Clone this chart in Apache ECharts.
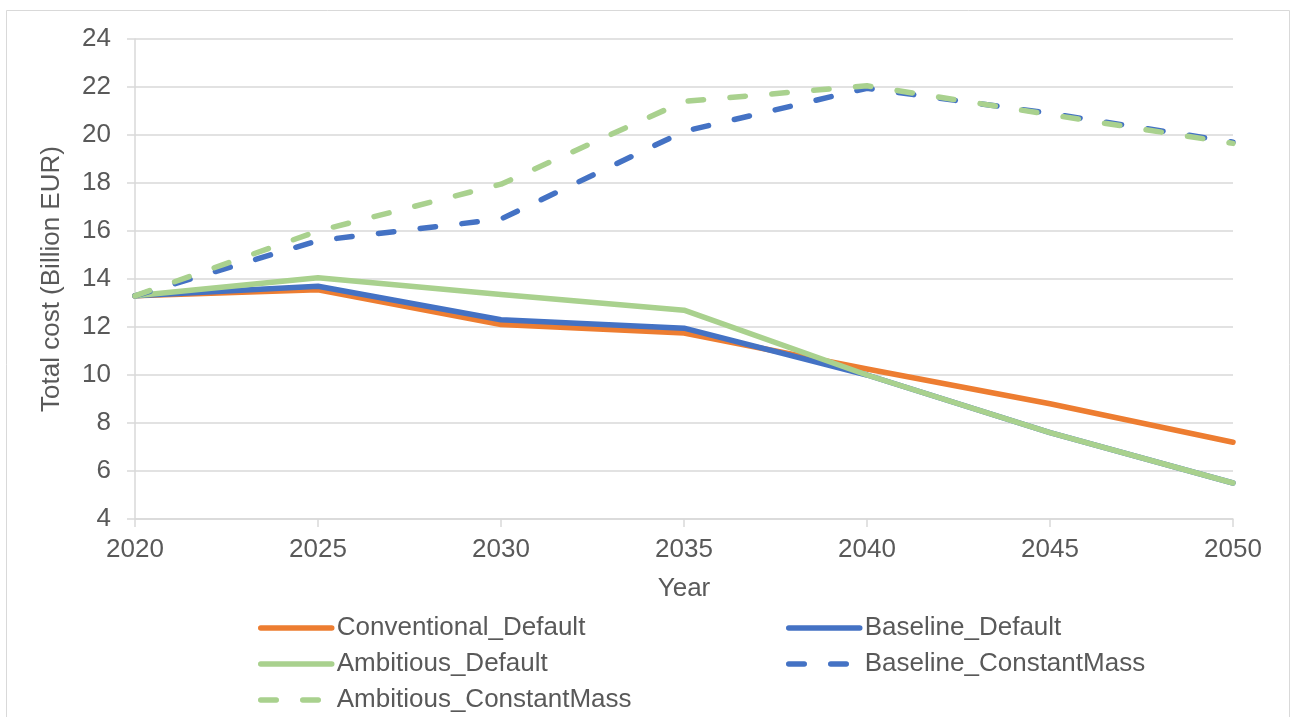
<!DOCTYPE html>
<html>
<head>
<meta charset="utf-8">
<script src="https://cdn.jsdelivr.net/npm/echarts@6/dist/echarts.min.js"></script>
<style>
  html, body { margin: 0; padding: 0; background: #ffffff; }
  #chart { width: 1292px; height: 717px; }
</style>
</head>
<body>
<div id="chart"></div>
<script>
// Years on the horizontal axis
const years = ['2020', '2025', '2030', '2035', '2040', '2045', '2050'];

// Total cost per scenario, billion EUR
const conventionalDefault = [13.3, 13.55, 12.1, 11.75, 10.25, 8.8, 7.2];
const baselineDefault = [13.3, 13.7, 12.3, 11.95, 10.0, 7.6, 5.5];
const ambitiousDefault = [13.3, 14.05, 13.35, 12.7, 10.0, 7.6, 5.5];
const baselineConstantMass = [13.3, 15.6, 16.5, 20.15, 21.95, 20.9, 19.7];
const ambitiousConstantMass = [13.3, 16.0, 17.95, 21.4, 22.05, 20.85, 19.65];

const FONT = '"Liberation Sans", Arial, sans-serif';
const TEXT = '#595959';
const GRID = '#d9d9d9';
const ORANGE = '#ed7d31';
const BLUE = '#4472c4';
const GREEN = '#a9d18e';
const LINE_W = 5.5;
const DASH = [15.5, 26.5];

function lineSeries(name, data, color, dashed) {
  return {
    name: name,
    type: 'line',
    data: data,
    symbol: 'none',
    smooth: false,
    lineStyle: {
      color: color,
      width: LINE_W,
      type: dashed ? DASH : 'solid',
      cap: 'round',
      join: 'round'
    },
    itemStyle: { color: color },
    emphasis: { disabled: true }
  };
}

const legendText = { color: TEXT, fontSize: 26, fontFamily: FONT, lineHeight: 26 };

// Legend entries show only the series line (no marker)
function legendBlock(left, names) {
  return {
    orient: 'vertical',
    left: left,
    top: 615,
    itemWidth: 71,
    itemHeight: 26,
    itemGap: 10,
    padding: 0,
    textStyle: legendText,
    itemStyle: { opacity: 0 },
    lineStyle: { width: LINE_W, cap: 'round' },
    data: names
  };
}

const chart = echarts.init(document.getElementById('chart'), null, { renderer: 'canvas' });
chart.setOption({
  animation: false,
  backgroundColor: '#ffffff',
  graphic: [{
    type: 'rect',
    shape: { x: 6.5, y: 10.5, width: 1283, height: 730 },
    style: { fill: 'none', stroke: GRID, lineWidth: 1 },
    silent: true,
    z: -1
  }],
  grid: { left: 135, right: 59, top: 39, bottom: 198, containLabel: false },
  xAxis: {
    type: 'category',
    data: years,
    boundaryGap: false,
    name: 'Year',
    nameLocation: 'middle',
    nameGap: 57,
    nameTextStyle: { color: TEXT, fontSize: 26, fontFamily: FONT },
    axisLine: { show: true, lineStyle: { color: GRID, width: 1.5 } },
    axisTick: { show: true, inside: false, length: 8, lineStyle: { color: GRID, width: 1.5 } },
    axisLabel: { color: TEXT, fontSize: 26, fontFamily: FONT, margin: 18 },
    splitLine: { show: false }
  },
  yAxis: {
    type: 'value',
    min: 4,
    max: 24,
    interval: 2,
    name: 'Total cost (Billion EUR)',
    nameLocation: 'middle',
    nameGap: 70,
    nameRotate: 90,
    nameTextStyle: { color: TEXT, fontSize: 26, fontFamily: FONT },
    axisLine: { show: true, lineStyle: { color: GRID, width: 1.5 } },
    axisTick: { show: true, inside: false, length: 8, lineStyle: { color: GRID, width: 1.5 } },
    axisLabel: { color: TEXT, fontSize: 26, fontFamily: FONT, margin: 24 },
    splitLine: { show: true, lineStyle: { color: GRID, width: 1.5 } }
  },
  legend: [
    legendBlock(258, ['Conventional_Default', 'Ambitious_Default', 'Ambitious_ConstantMass']),
    legendBlock(786, ['Baseline_Default', 'Baseline_ConstantMass'])
  ],
  series: [
    lineSeries('Conventional_Default', conventionalDefault, ORANGE, false),
    lineSeries('Baseline_Default', baselineDefault, BLUE, false),
    lineSeries('Ambitious_Default', ambitiousDefault, GREEN, false),
    lineSeries('Baseline_ConstantMass', baselineConstantMass, BLUE, true),
    lineSeries('Ambitious_ConstantMass', ambitiousConstantMass, GREEN, true)
  ]
});
</script>
</body>
</html>
